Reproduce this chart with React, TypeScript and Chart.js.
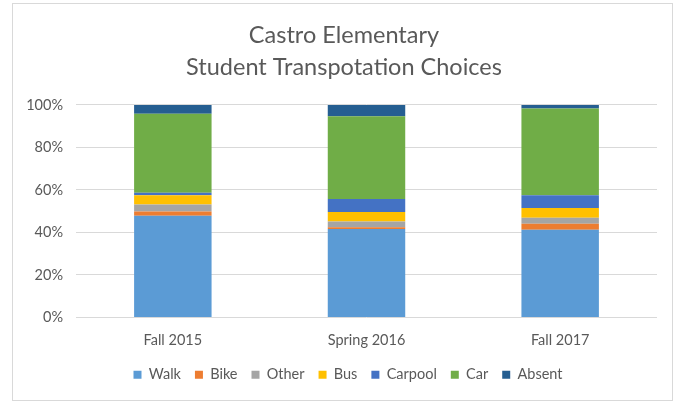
import React, { useEffect, useRef } from "react";
import { Chart, registerables } from "chart.js";

Chart.register(...registerables);

const categories = ["Fall 2015", "Spring 2016", "Fall 2017"];
const walk = [47.9, 41.6, 41.3];
const bike = [2.0, 0.8, 2.8];
const other = [3.2, 2.8, 2.8];
const bus = [4.4, 4.4, 4.6];
const carpool = [1.2, 6.1, 6.0];
const car = [37.1, 39.0, 40.8];
const absent = [4.2, 5.3, 1.7];
const titleLines = ["Castro Elementary", "Student Transpotation Choices"];

const FONT = "Lato, 'Open Sans', sans-serif";
const TEXT = "#595959";

const shiftBoxes = {
  id: "shiftBoxes",
  afterLayout(c: any) {
    const l = c.legend;
    if (l) {
      l.left += 13;
      l.right += 13;
    }
    const t = c.titleBlock;
    if (t) {
      t.left += 9;
      t.right += 9;
    }
  },
};

export default function App() {
  const ref = useRef<HTMLCanvasElement | null>(null);

  useEffect(() => {
    document.body.style.margin = "0";
    const ctx = ref.current!;
    const series = [
      { label: "Walk", data: walk, color: "#5B9BD5" },
      { label: "Bike", data: bike, color: "#ED7D31" },
      { label: "Other", data: other, color: "#A5A5A5" },
      { label: "Bus", data: bus, color: "#FFC000" },
      { label: "Carpool", data: carpool, color: "#4472C4" },
      { label: "Car", data: car, color: "#70AD47" },
      { label: "Absent", data: absent, color: "#255E91" },
    ];
    const chart = new Chart(ctx, {
      type: "bar",
      data: {
        labels: categories,
        datasets: series.map((s) => ({
          label: s.label,
          data: s.data,
          backgroundColor: s.color,
          borderWidth: 0,
          categoryPercentage: 1,
          barPercentage: 0.4,
        })),
      },
      plugins: [shiftBoxes],
      options: {
        animation: false,
        responsive: false,
        maintainAspectRatio: false,
        layout: { padding: { left: 0, right: 15, top: 0, bottom: 8 } },
        plugins: {
          title: {
            display: true,
            text: titleLines,
            color: TEXT,
            font: { family: FONT, size: 23.5, weight: "normal", lineHeight: 1.36 },
            padding: { top: 15, bottom: 22 },
          },
          legend: {
            position: "bottom",
            labels: {
              boxWidth: 8,
              boxHeight: 8,
              padding: 14,
              color: TEXT,
              font: { family: FONT, size: 14.5 },
            },
          },
          tooltip: { enabled: false },
        },
        scales: {
          x: {
            stacked: true,
            grid: { display: false, drawTicks: false },
            border: { display: false },
            ticks: { color: TEXT, font: { family: FONT, size: 14.5 }, padding: 14 },
            afterFit: (s: any) => {
              s.height = 36;
            },
          },
          y: {
            stacked: true,
            min: 0,
            max: 100,
            grid: { color: "#D9D9D9", lineWidth: 1, drawTicks: false },
            border: { display: false },
            ticks: {
              stepSize: 20,
              color: TEXT,
              font: { family: FONT, size: 14.5 },
              padding: 13,
              callback: (v: any) => v + "%",
            },
            afterFit: (s: any) => {
              s.width = 63;
            },
          },
        },
      },
    });
    return () => chart.destroy();
  }, []);

  return (
    <div
      style={{
        position: "absolute",
        left: 12,
        top: 3,
        width: 661,
        height: 398,
        border: "1px solid #D9D9D9",
        boxSizing: "border-box",
        background: "#fff",
      }}
    >
      <canvas ref={ref} width={659} height={396} style={{ display: "block" }} />
    </div>
  );
}
